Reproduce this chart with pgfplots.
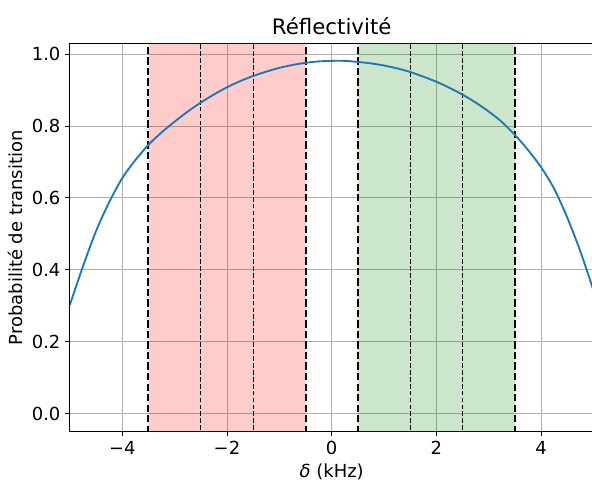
\documentclass[border=0pt]{standalone}
\usepackage{pgfplots}
\pgfplotsset{compat=1.18}
\usepackage{fontspec}
\setmainfont{DejaVu Sans}
\definecolor{mplblue}{HTML}{1F77B4}
\definecolor{gridgray}{HTML}{B0B0B0}
\begin{document}
\begin{tikzpicture}
\begin{axis}[
  name=ax,
  scale only axis,
  width=393pt, height=291pt,
  xmin=-5, xmax=5, ymin=-0.05, ymax=1.028,
  xtick={-4,-2,0,2,4},
  xticklabels={−4,−2,0,2,4},
  ytick={0,0.2,0.4,0.6,0.8,1.0},
  yticklabels={0.0,0.2,0.4,0.6,0.8,1.0},
  tick pos=left, tick align=outside,
  major tick length=3.6pt,
  every tick/.style={black, line width=0.6pt},
  grid=major,
  major grid style={gridgray, line width=0.6pt},
  axis line style={black, line width=0.75pt},
  /pgf/number format/assume math mode=true,
  tick label style={font=\fontsize{13.5}{16}\selectfont},
  label style={font=\fontsize{13.5}{16}\selectfont},
  title style={font=\fontsize{16}{19}\selectfont, yshift=-3pt},
  title={Réflectivité},
  xlabel={\textit{δ} (kHz)},
  ylabel={Probabilité de transition},
]
\addplot[draw=none, fill=red, fill opacity=0.2] coordinates {(-3.5,-0.2) (-0.5,-0.2) (-0.5,1.2) (-3.5,1.2)} \closedcycle;
\addplot[draw=none, fill={rgb,255:red,0;green,128;blue,0}, fill opacity=0.2] coordinates {(0.5,-0.2) (3.5,-0.2) (3.5,1.2) (0.5,1.2)} \closedcycle;
\addplot[black, line width=1.5pt, dash pattern=on 5.5pt off 2.4pt] coordinates {(-3.5,-0.2) (-3.5,1.2)};
\addplot[black, line width=1.5pt, dash pattern=on 5.5pt off 2.4pt] coordinates {(-0.5,-0.2) (-0.5,1.2)};
\addplot[black, line width=1.5pt, dash pattern=on 5.5pt off 2.4pt] coordinates {(0.5,-0.2) (0.5,1.2)};
\addplot[black, line width=1.5pt, dash pattern=on 5.5pt off 2.4pt] coordinates {(3.5,-0.2) (3.5,1.2)};
\addplot[black, line width=0.9pt, dash pattern=on 3.6pt off 1.6pt] coordinates {(-2.5,-0.2) (-2.5,1.2)};
\addplot[black, line width=0.9pt, dash pattern=on 3.6pt off 1.6pt] coordinates {(-1.5,-0.2) (-1.5,1.2)};
\addplot[black, line width=0.9pt, dash pattern=on 3.6pt off 1.6pt] coordinates {(1.5,-0.2) (1.5,1.2)};
\addplot[black, line width=0.9pt, dash pattern=on 3.6pt off 1.6pt] coordinates {(2.5,-0.2) (2.5,1.2)};
\addplot[mplblue, line width=1.4pt, smooth] coordinates {
(-5,0.303) (-4.75,0.410) (-4.5,0.508) (-4.25,0.588) (-4,0.655) (-3.75,0.705)
(-3.5,0.7475) (-3.25,0.782) (-3,0.812) (-2.75,0.840) (-2.5,0.865) (-2.25,0.8875)
(-2,0.9075) (-1.75,0.9245) (-1.5,0.939) (-1.25,0.951) (-1,0.9615) (-0.75,0.9695)
(-0.5,0.9755) (-0.25,0.9795) (0,0.981) (0.25,0.981) (0.5,0.978) (0.75,0.974)
(1,0.968) (1.25,0.960) (1.5,0.950) (1.75,0.937) (2,0.923) (2.25,0.906)
(2.5,0.887) (2.75,0.865) (3,0.840) (3.25,0.811) (3.5,0.775) (3.75,0.733)
(4,0.685) (4.25,0.625) (4.5,0.545) (4.75,0.451) (5,0.343)
};
\end{axis}
\pgfresetboundingbox
\path ([shift={(-52.5pt,-37.5pt)}]ax.south west) rectangle ([shift={(-1.1pt,33pt)}]ax.north east);
\end{tikzpicture}
\end{document}
